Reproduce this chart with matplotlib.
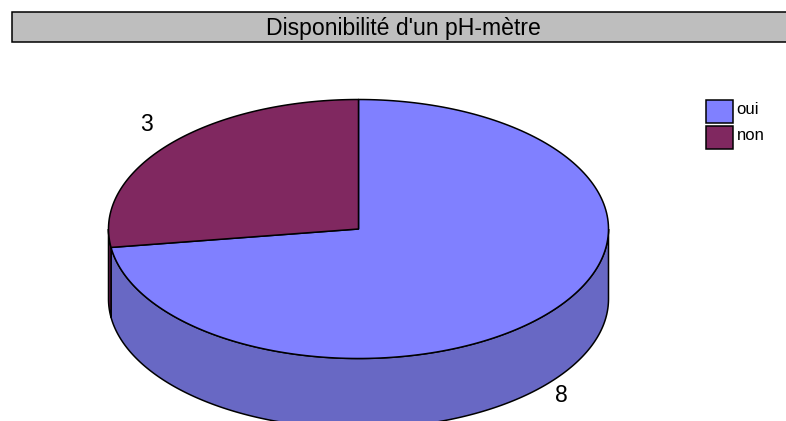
import numpy as np
import matplotlib.pyplot as plt
from matplotlib.patches import Polygon, Rectangle

plt.rcParams['font.family'] = ['Liberation Sans', 'DejaVu Sans']

title = "Disponibilité d'un pH-mètre"
labels = ["oui", "non"]
values = [8, 3]
colors = ["#8080FF", "#802860"]
side_colors = ["#6868C4", "#60184A"]

# pie geometry in pixels
cx, cy = 358.5, 229
rx, ry = 250, 129.5
depth = 70

fig = plt.figure(figsize=(7.86, 4.21), dpi=100)
ax = fig.add_axes([0, 0, 1, 1])
ax.set_xlim(0, 786)
ax.set_ylim(421, 0)
ax.axis("off")


def rim(a0, a1, n=200):
    # angles in degrees, counted clockwise on screen from the top
    t = np.radians(np.linspace(a0, a1, n))
    return cx + rx * np.sin(t), cy - ry * np.cos(t)


# title bar
ax.add_patch(Rectangle((11.5, 11.5), 790, 30.5, fc="#BEBEBE", ec="black", lw=1.1))
ax.text(403.5, 28, title, ha="center", va="center", fontsize=16.6, color="black")

total = sum(values)
angles = np.cumsum([0] + values) / total * 360

# side walls, only the part facing the viewer (90..270 deg)
for i in range(len(values)):
    a0, a1 = max(angles[i], 90), min(angles[i + 1], 270)
    if a0 < a1:
        x, y = rim(a0, a1)
        pts = np.r_[np.c_[x, y], np.c_[x[::-1], y[::-1] + depth]]
        ax.add_patch(Polygon(pts, fc=side_colors[i], ec="black", lw=1.1))

# top faces
for i in range(len(values)):
    x, y = rim(angles[i], angles[i + 1])
    pts = np.r_[[[cx, cy]], np.c_[x, y]]
    ax.add_patch(Polygon(pts, fc=colors[i], ec="black", lw=1.1, joinstyle="round"))

# value labels
ax.text(561.5, 395, str(values[0]), ha="center", va="center", fontsize=16.6)
ax.text(146.5, 124.5, str(values[1]), ha="center", va="center", fontsize=16.6)

# legend
for i, lab in enumerate(labels):
    y0 = 99.5 + i * 26
    ax.add_patch(Rectangle((705.5, y0), 27, 23.5, fc=colors[i], ec="black", lw=1.1))
    ax.text(736.5, y0 + 10.5, lab, ha="left", va="center", fontsize=12)

fig.savefig("out.png", dpi=100)
